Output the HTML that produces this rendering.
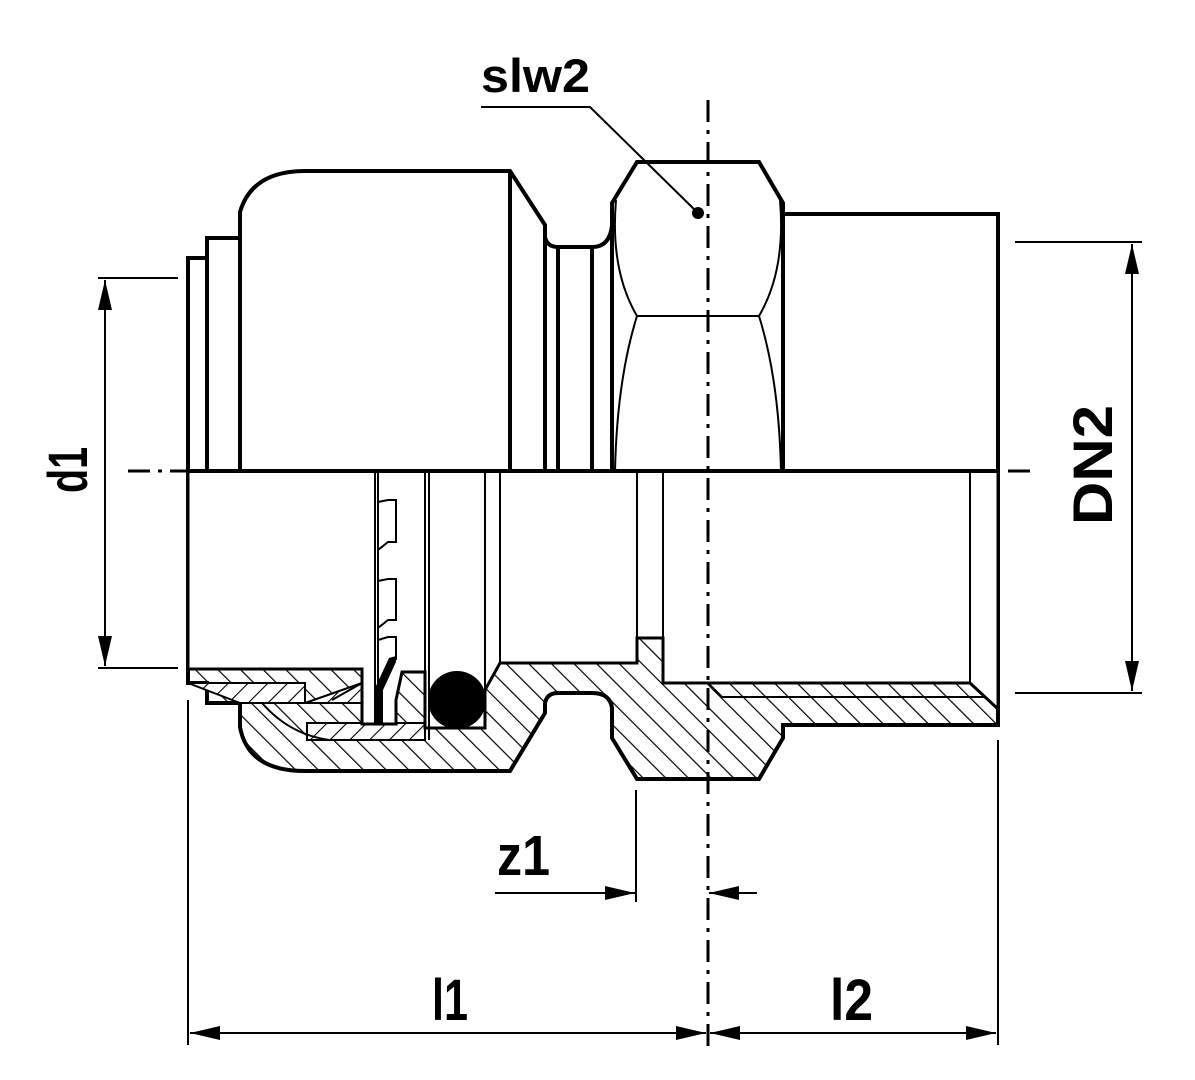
<!DOCTYPE html>
<html><head><meta charset="utf-8"><style>
html,body{margin:0;padding:0;background:#fff}
svg{display:block}
text{font-family:"Liberation Sans",Arial,sans-serif;font-weight:bold;fill:#000}
</style></head><body>
<svg width="1195" height="1080" viewBox="0 0 1195 1080" xmlns="http://www.w3.org/2000/svg">
<defs>
<pattern id="h1" patternUnits="userSpaceOnUse" width="16" height="16" patternTransform="rotate(-45)">
<rect width="16" height="16" fill="#fff"/><line x1="0" y1="0" x2="0" y2="16" stroke="#000" stroke-width="2.4"/></pattern>
<pattern id="h2" patternUnits="userSpaceOnUse" width="14" height="14" patternTransform="rotate(45)">
<rect width="14" height="14" fill="#fff"/><line x1="0" y1="0" x2="0" y2="14" stroke="#000" stroke-width="2.2"/></pattern>
<marker id="ar" viewBox="0 0 30 14" refX="30" refY="7" markerWidth="30" markerHeight="14" markerUnits="userSpaceOnUse" orient="auto-start-reverse"><path d="M0,0 L30,7 L0,14 z" fill="#000"/></marker>
</defs>
<g fill="none" stroke="#000" stroke-width="4" stroke-linejoin="miter">
<polyline points="188,471 188,258 207,258"/>
<polyline points="207,471 207,238 240,238"/>
<path d="M240 471 V212 Q252 171 305 171 H510 L545 225 V237 Q547 247 558 247 H592 Q610 247 612 225 V203 L637 162 H759 L783 203 V471"/>
<line x1="510" y1="171" x2="510" y2="471"/>
<line x1="545" y1="225" x2="545" y2="471"/>
<line x1="558" y1="247" x2="558" y2="471"/>
<line x1="592" y1="247" x2="592" y2="471"/>
<line x1="612" y1="203" x2="612" y2="471"/>
<polyline points="783,214 998,214 998,727"/>
</g>
<g fill="none" stroke="#000" stroke-width="2">
<path d="M616 200 Q610 270 637 316 H759 Q786 270 780 200"/>
<path d="M637 316 Q617 380 615 471"/>
<path d="M759 316 Q779 380 781 471"/>
</g>
<path d="M188 471 V683 H207 V703 H240 V727 Q248 771 305 771 H510 L545 713 V703 Q547 693 558 693 H592 Q610 693 612 708 V738 L637 779 H759 L783 738 V725 H998 V471 Z" fill="url(#h1)" stroke="#000" stroke-width="4"/>
<path d="M188 683 H305 V703 H240 Z" fill="url(#h2)" stroke="#000" stroke-width="2"/>
<path d="M305 703 H365 L362 683 Z" fill="url(#h2)" stroke="#000" stroke-width="2"/>
<path d="M307 723 H425 V740 H307 Z" fill="url(#h2)" stroke="#000" stroke-width="2"/>
<path d="M188 471 V669 H362 V724 H396 V700 L402 672 H425 V728 H485 V690 L500 663 H637 V638 H663 V683 H970 L998 709 V471 Z" fill="#fff" stroke="#000" stroke-width="3"/>
<g fill="none" stroke="#000" stroke-width="2">
<line x1="375" y1="471" x2="375" y2="724"/>
<line x1="378" y1="471" x2="378" y2="700"/>
<line x1="425" y1="471" x2="425" y2="740"/>
<line x1="429" y1="471" x2="429" y2="740"/>
<line x1="485" y1="471" x2="485" y2="690"/>
<line x1="500" y1="471" x2="500" y2="663"/>
<line x1="637" y1="471" x2="637" y2="638"/>
<line x1="663" y1="471" x2="663" y2="638"/>
<line x1="970" y1="471" x2="970" y2="683"/>
<polyline points="708,683 722,697 985,697"/>
<line x1="362" y1="683" x2="332" y2="700"/>
<path d="M262 703 Q290 735 330 740"/>
<polyline points="378,502 388,500 396,500 396,542 388,542 378,550"/>
<polyline points="378,581 388,579 396,579 396,620 388,620 378,628"/>
<polyline points="378,640 388,637 396,637 396,660"/>
</g>
<path d="M375 723 H383 V690 L396 662 V656 L389 658 L375 688 Z" fill="#000"/>
<circle cx="457" cy="700" r="29" fill="#000"/>
<line x1="188" y1="471" x2="998" y2="471" stroke="#000" stroke-width="4"/>
<g stroke="#000" stroke-width="3" stroke-dasharray="22,8,4,8">
<line x1="128" y1="471" x2="188" y2="471"/>
<line x1="1030" y1="471" x2="998" y2="471"/>
<line x1="708" y1="100" x2="708" y2="1052"/>
</g>
<polyline points="481,107 590,107 698,213" fill="none" stroke="#000" stroke-width="2"/>
<circle cx="698" cy="213" r="6" fill="#000"/>
<text x="481" y="92" font-size="47" textLength="109" lengthAdjust="spacingAndGlyphs">slw2</text>
<g stroke="#000" stroke-width="2" fill="none">
<line x1="98" y1="278" x2="178" y2="278"/>
<line x1="98" y1="668" x2="178" y2="668"/>
<line x1="105" y1="280" x2="105" y2="666" marker-start="url(#ar)" marker-end="url(#ar)"/>
<line x1="1015" y1="242" x2="1142" y2="242"/>
<line x1="1015" y1="693" x2="1142" y2="693"/>
<line x1="1132" y1="244" x2="1132" y2="691" marker-start="url(#ar)" marker-end="url(#ar)"/>
<line x1="188" y1="700" x2="188" y2="1045"/>
<line x1="998" y1="740" x2="998" y2="1045"/>
<line x1="190" y1="1033" x2="706" y2="1033" marker-start="url(#ar)" marker-end="url(#ar)"/>
<line x1="710" y1="1033" x2="996" y2="1033" marker-start="url(#ar)" marker-end="url(#ar)"/>
<line x1="636" y1="790" x2="636" y2="902"/>
<line x1="495" y1="893" x2="635" y2="893" marker-end="url(#ar)"/>
<line x1="757" y1="893" x2="709" y2="893" marker-end="url(#ar)"/>
</g>
<text transform="translate(87,493) rotate(-90)" font-size="56" textLength="46" lengthAdjust="spacingAndGlyphs">d1</text>
<text transform="translate(1112,525) rotate(-90)" font-size="56" textLength="120" lengthAdjust="spacingAndGlyphs">DN2</text>
<text x="497" y="875" font-size="57" textLength="53" lengthAdjust="spacingAndGlyphs">z1</text>
<text x="432" y="1020" font-size="58" textLength="36" lengthAdjust="spacingAndGlyphs">l1</text>
<text x="830" y="1020" font-size="58" textLength="43" lengthAdjust="spacingAndGlyphs">l2</text>
</svg>
</body></html>
